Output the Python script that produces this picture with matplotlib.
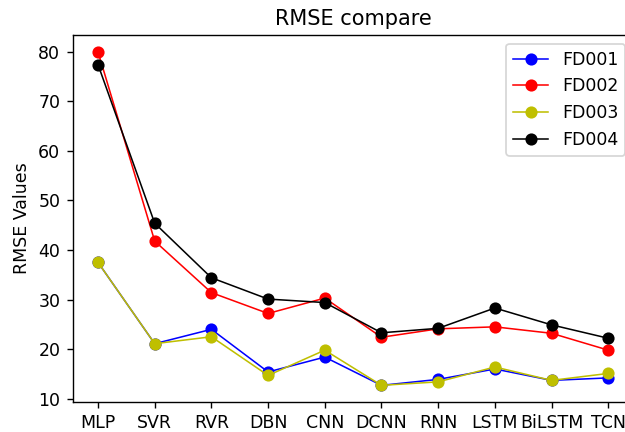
import matplotlib
matplotlib.use("Agg")
import matplotlib.pyplot as plt

models = ["MLP", "SVR", "RVR", "DBN", "CNN", "DCNN", "RNN", "LSTM", "BiLSTM", "TCN"]
fd001 = [37.5, 21.1, 24.0, 15.4, 18.4, 12.7, 13.9, 16.0, 13.7, 14.2]
fd002 = [80.0, 41.8, 31.4, 27.2, 30.3, 22.4, 24.1, 24.5, 23.2, 19.8]
fd003 = [37.5, 21.1, 22.5, 14.7, 19.8, 12.7, 13.4, 16.4, 13.7, 15.1]
fd004 = [77.4, 45.4, 34.4, 30.1, 29.4, 23.3, 24.2, 28.3, 24.9, 22.2]

series = [("FD001", fd001, "b"), ("FD002", fd002, "r"),
          ("FD003", fd003, "y"), ("FD004", fd004, "k")]

DPI = 125
fig = plt.figure(figsize=(625 / DPI, 432 / DPI), dpi=DPI)
ax = fig.add_axes([0.116, 0.0694, 0.898, 0.8495])

for name, vals, col in series:
    ax.plot(models, vals, color=col, marker="o", markersize=6, linewidth=0.9, label=name)

ax.set_title("RMSE compare")
ax.set_ylabel("RMSE Values")
ax.legend(loc="upper right")

fig.savefig("out.png", dpi=DPI)
